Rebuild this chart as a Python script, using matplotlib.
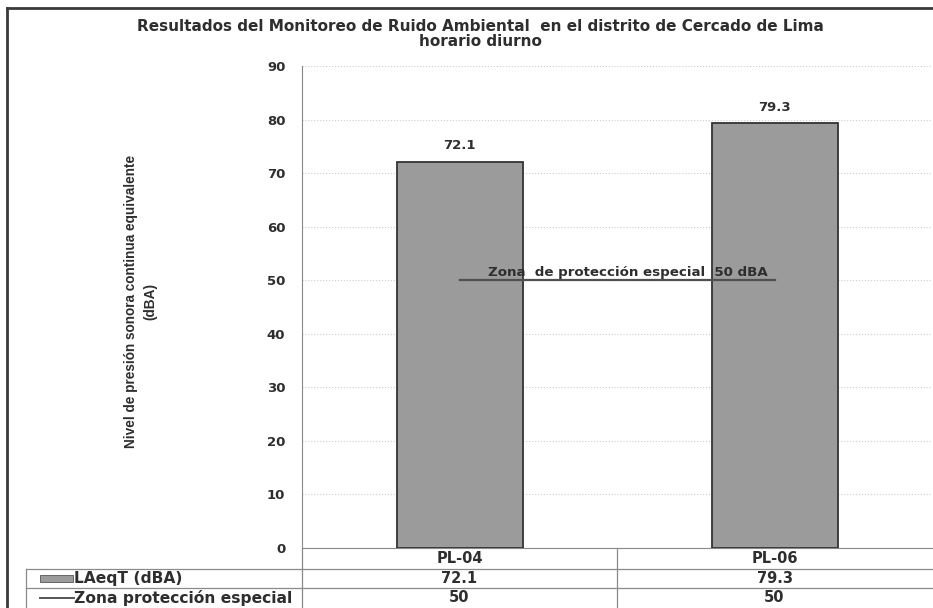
import matplotlib
matplotlib.use('Agg')
import matplotlib.pyplot as plt
from matplotlib.transforms import blended_transform_factory
from matplotlib.patches import Rectangle

# data
puntos = ['PL-04', 'PL-06']
laeqt = [72.1, 79.3]
zona = [50, 50]
serie_barras = 'LAeqT (dBA)'
serie_linea = 'Zona protección especial'
texto_linea = 'Zona  de protección especial  50 dBA'
titulo = 'Resultados del Monitoreo de Ruido Ambiental  en el distrito de Cercado de Lima\nhorario diurno'
ylabel = 'Nivel de presión sonora continua equivalente\n(dBA)'
yticks = list(range(0, 100, 10))

W, H = 933, 608
plt.rcParams['font.family'] = ['DejaVu Sans']
fig = plt.figure(figsize=(W / 100, H / 100), dpi=100)

def px(x, y):
    return x / W, 1 - y / H

# plot area
x0, y0 = px(302, 548)
x1, y1 = px(932, 66)
ax = fig.add_axes([x0, y0, x1 - x0, y1 - y0])

bar_col = '#9b9b9b'
dark = '#2e2e2e'
xs = list(range(len(puntos)))
ax.bar(xs, laeqt, width=0.4, color=bar_col, edgecolor='#333333', linewidth=1.3, zorder=3)
for x, v in zip(xs, laeqt):
    ax.annotate('{:.1f}'.format(v), (x, v), xytext=(0, 7), textcoords='offset points',
                ha='center', va='bottom', fontsize=9.5, fontweight='bold', color=dark)
ax.plot(xs, zona, color='#505050', linewidth=1.6, zorder=4)
ax.annotate(texto_linea, (xs[-1], zona[-1]), xytext=(-5, 1), textcoords='offset points',
            ha='right', va='bottom', fontsize=9.6, fontweight='bold', color=dark, zorder=5)

ax.set_xlim(-0.5, len(puntos) - 0.5)
ax.set_ylim(0, 90)
ax.set_yticks(yticks)
ax.set_xticks([])
ax.tick_params(axis='y', length=0, pad=12, labelsize=9.5, labelcolor=dark)
for lab in ax.get_yticklabels():
    lab.set_fontweight('bold')
ax.grid(axis='y', color='#cccccc', linestyle=':', linewidth=0.8, zorder=0)
for s in ['top', 'right']:
    ax.spines[s].set_visible(False)
ax.spines['left'].set_color('#888888')
ax.spines['bottom'].set_color('#888888')

fig.text(480 / W, 1 - 19 / H, titulo, ha='center', va='top', fontsize=11,
         fontweight='bold', color=dark, linespacing=1.0)
fig.text(141 / W, 1 - 301 / H, ylabel, ha='center', va='center', rotation=90,
         fontsize=9.8, fontweight='bold', color=dark, linespacing=1.5,
         family=['Liberation Sans Narrow', 'Liberation Sans', 'DejaVu Sans'])

# data table under the axis
tr = blended_transform_factory(ax.transData, fig.transFigure)
lc = '#8a8a8a'
def hline(xa, xb, y):
    fig.add_artist(plt.Line2D([xa / W, xb / W], [1 - y / H] * 2, color=lc, lw=0.9))
def vline(x, ya, yb):
    fig.add_artist(plt.Line2D([x / W] * 2, [1 - ya / H, 1 - yb / H], color=lc, lw=0.9))
hline(26, 932, 569)
hline(26, 932, 588)
vline(26, 569, 608)
vline(302, 548, 608)
for b in range(1, len(puntos)):
    fig.add_artist(plt.Line2D([b - 0.5] * 2, [1 - 548 / H, 0], transform=tr, color=lc, lw=0.9))

row_y = [558.5, 578.5, 598]
for x, p, v, z in zip(xs, puntos, laeqt, zona):
    fig.text(x, 1 - row_y[0] / H, p, transform=tr, ha='center', va='center',
             fontsize=10.5, fontweight='bold', color=dark)
    fig.text(x, 1 - row_y[1] / H, '{:.1f}'.format(v), transform=tr, ha='center', va='center',
             fontsize=10.5, fontweight='bold', color=dark)
    fig.text(x, 1 - row_y[2] / H, '{:g}'.format(z), transform=tr, ha='center', va='center',
             fontsize=10.5, fontweight='bold', color=dark)

fig.add_artist(Rectangle(px(40, 582), 33 / W, 7 / H, facecolor=bar_col, edgecolor='#555555', lw=0.6))
fig.add_artist(plt.Line2D([40 / W, 74 / W], [1 - row_y[2] / H] * 2, color='#555555', lw=1.4))
fig.text(74 / W, 1 - row_y[1] / H, serie_barras, ha='left', va='center', fontsize=11.2,
         fontweight='bold', color=dark)
fig.text(74 / W, 1 - row_y[2] / H, serie_linea, ha='left', va='center', fontsize=11.2,
         fontweight='bold', color=dark)

# outer frame
fig.add_artist(plt.Line2D([7 / W, 7 / W], [0, 1 - 8 / H], color='#3a3a3a', lw=2))
fig.add_artist(plt.Line2D([7 / W, 1], [1 - 8 / H] * 2, color='#3a3a3a', lw=2))

fig.savefig('out.png', dpi=100)
